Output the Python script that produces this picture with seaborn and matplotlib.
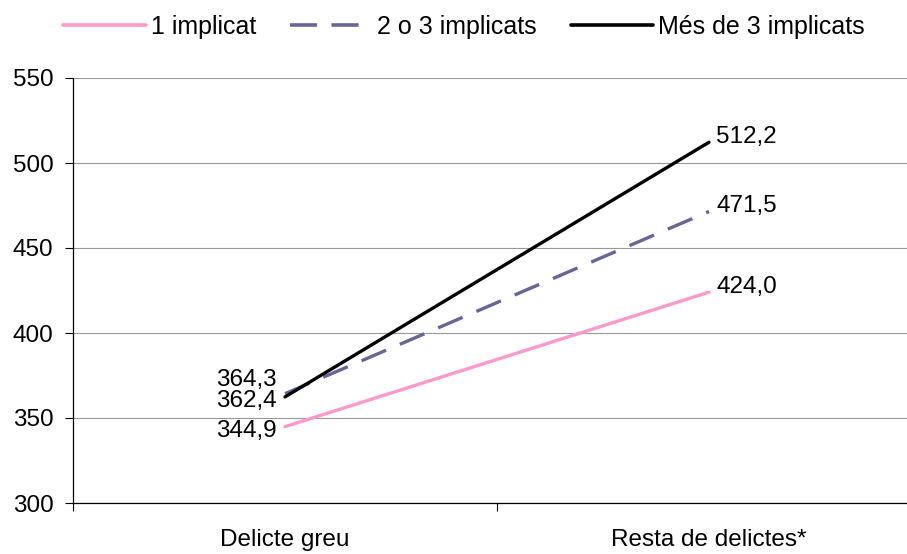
import pandas as pd
import seaborn as sns
import matplotlib.pyplot as plt

# dades
categories = ['Delicte greu', 'Resta de delictes*']
series = ['1 implicat', '2 o 3 implicats', 'Més de 3 implicats']
vals_1 = [344.9, 424.0]
vals_2_3 = [364.3, 471.5]
vals_mes3 = [362.4, 512.2]
yticks = [300, 350, 400, 450, 500, 550]

rows = []
for s, vals in zip(series, [vals_1, vals_2_3, vals_mes3]):
    for i, v in enumerate(vals):
        rows.append({'cat': i, 'valor': v, 'serie': s})
df = pd.DataFrame(rows)

sns.set_style('white')
plt.rcParams['font.family'] = ['Liberation Sans', 'DejaVu Sans']
plt.rcParams['text.color'] = 'black'
plt.rcParams['xtick.color'] = 'black'
plt.rcParams['ytick.color'] = 'black'
FS = 17.5

colors = {'1 implicat': '#ff99cc', '2 o 3 implicats': '#666699', 'Més de 3 implicats': '#000000'}
dashes = {'1 implicat': '', '2 o 3 implicats': (8, 4.5), 'Més de 3 implicats': ''}

fig = plt.figure(figsize=(9.07, 5.54), dpi=100)
ax = fig.add_axes([73 / 907, 1 - 503 / 554, 848 / 907, 425 / 554])

sns.lineplot(data=df, x='cat', y='valor', hue='serie', style='serie',
             palette=colors, dashes=dashes, linewidth=2.4, ax=ax, legend=False)

ax.set_xlim(-0.5, 1.5)
ax.set_ylim(300, 550)
ax.set_yticks(yticks)
ax.set_yticklabels([str(t) for t in yticks], fontsize=FS)
ax.set_xticks([-0.5, 0.5])
ax.set_xticklabels([])
for i, c in enumerate(categories):
    ax.text(i, -0.088, c, transform=ax.get_xaxis_transform(), ha='center', va='center', fontsize=FS)
ax.tick_params(axis='both', direction='out', length=6, width=0.8, color='black', left=True, bottom=True)
ax.tick_params(axis='y', pad=8)
ax.grid(axis='y', color='#999999', linewidth=0.8)
ax.set_axisbelow(True)
for sp in ['top', 'right']:
    ax.spines[sp].set_visible(False)
for sp in ['left', 'bottom']:
    ax.spines[sp].set_color('black')
    ax.spines[sp].set_linewidth(0.9)
ax.set_xlabel('')
ax.set_ylabel('')

def fmt(v):
    return f'{v:.1f}'.replace('.', ',')

# etiquetes
offs_left = [-2.5, 8, -2.5]
for vals, off in zip([vals_1, vals_2_3, vals_mes3], offs_left):
    ax.text(-0.02, vals[0] + off, fmt(vals[0]), ha='right', va='center', fontsize=FS)
for vals in [vals_1, vals_2_3, vals_mes3]:
    ax.text(1.017, vals[1] + 3, fmt(vals[1]), ha='left', va='center', fontsize=FS)

handles = [plt.Line2D([], [], color=colors[s], linewidth=2.6) for s in series]
handles[1].set_dashes((7.5, 4))
fig.legend(handles, series, loc='center', bbox_to_anchor=(464 / 907, 1 - 27 / 554), ncol=3,
           frameon=False, fontsize=18, handlelength=3.3, handletextpad=0.2, columnspacing=1.35)

plt.savefig('out.png', dpi=100)
